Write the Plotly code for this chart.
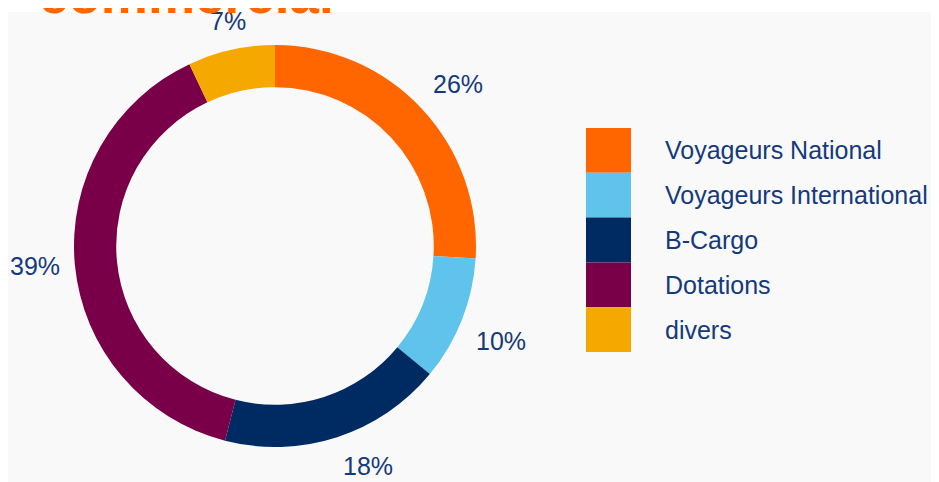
import math
import plotly.graph_objects as go

W, H = 939, 482

categories = ["Voyageurs National", "Voyageurs International", "B-Cargo", "Dotations", "divers"]
shares = [26, 10, 18, 39, 7]
colors = ["#ff6600", "#5fc3ec", "#002a62", "#790048", "#f5a800"]

text_color = "#143a7c"
font_family = "Liberation Sans, Arial, sans-serif"

# pie geometry in figure pixels (page adds an 8px body margin)
cx, cy, radius = 267, 238, 201
label_r = 214


def px_x(x):
    return x / W


def px_y(y):
    return 1 - y / H


fig = go.Figure()
fig.add_trace(go.Pie(
    labels=categories,
    values=shares,
    sort=False,
    direction="clockwise",
    rotation=0,
    hole=0.79,
    marker=dict(colors=colors, line=dict(width=0)),
    textinfo="none",
    hoverinfo="label+percent",
    showlegend=False,
    domain=dict(x=[px_x(cx - radius), px_x(cx + radius)],
                y=[px_y(cy + radius), px_y(cy - radius)]),
))

annotations = []
shapes = []

# percent labels just outside the ring, anchored away from the centre
total = sum(shares)
cum = 0
for v in shares:
    mid = (cum + v / 2) / total * 2 * math.pi
    cum += v
    s, c = math.sin(mid), math.cos(mid)
    lx = cx + label_r * s
    ly = cy - label_r * c
    xa = "center" if abs(s) < 0.25 else ("left" if s > 0 else "right")
    ya = "middle" if abs(c) < 0.25 else ("bottom" if c > 0 else "top")
    annotations.append(dict(
        x=px_x(lx), y=px_y(ly), xref="paper", yref="paper",
        text=f"{round(v / total * 100)}%", showarrow=False,
        xanchor=xa, yanchor=ya,
        font=dict(size=25, color=text_color, family=font_family),
    ))

# legend drawn by hand to get the big swatches
leg_x0, leg_x1, leg_top, leg_h = 578, 623, 120, 44.8
for i, (name, col) in enumerate(zip(categories, colors)):
    y0 = leg_top + i * leg_h
    shapes.append(dict(
        type="rect", xref="paper", yref="paper",
        x0=px_x(leg_x0), x1=px_x(leg_x1), y0=px_y(y0 + leg_h), y1=px_y(y0),
        fillcolor=col, line=dict(width=0),
    ))
    annotations.append(dict(
        x=px_x(655), y=px_y(y0 + leg_h / 2), xref="paper", yref="paper",
        text=name, showarrow=False, xanchor="left", yanchor="middle",
        font=dict(size=25, color=text_color, family=font_family),
    ))

# light grey panel behind the chart
shapes.append(dict(
    type="rect", xref="paper", yref="paper", layer="below",
    x0=0, x1=1, y0=0, y1=px_y(4),
    fillcolor="#f9f9f9", line=dict(width=0),
))

# cut-off title at the top
annotations.append(dict(
    x=px_x(29), y=px_y(18), xref="paper", yref="paper",
    text="<b>commercial</b>", showarrow=False, xanchor="left", yanchor="bottom",
    font=dict(size=53, color="#ff6600", family=font_family),
))

fig.update_layout(
    width=W, height=H,
    margin=dict(l=0, r=0, t=0, b=0),
    paper_bgcolor="white",
    plot_bgcolor="white",
    shapes=shapes,
    annotations=annotations,
)

fig.write_html("out.html")
